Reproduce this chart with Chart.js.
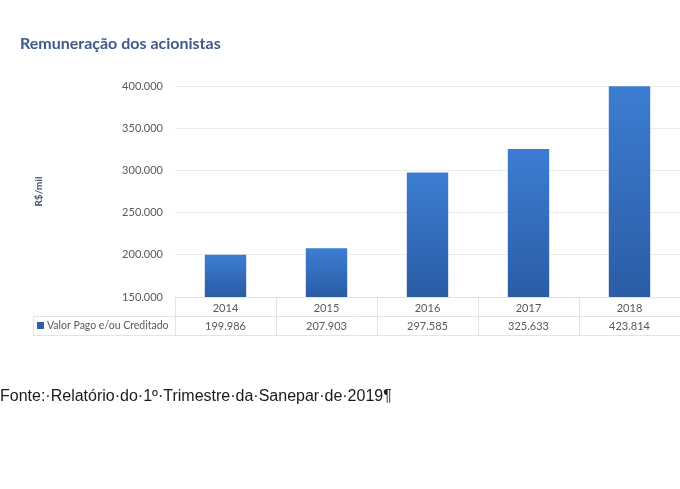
<!DOCTYPE html>
<html lang="pt">
<head>
<meta charset="UTF-8">
<title>Remuneração dos acionistas</title>
<script src="https://cdn.jsdelivr.net/npm/chart.js"></script>
<style>
  body { margin: 0; background: #fff; width: 680px; height: 489px; overflow: hidden; position: relative; }
  #wrap { position: absolute; left: 0; top: 0; width: 680px; height: 489px; }
  #fonte { position: absolute; left: 0; top: 387px; font-family: "Liberation Sans", Arial, sans-serif; font-size: 16px; color: #1a1a1a; white-space: nowrap; }
</style>
</head>
<body>
<div id="wrap"><canvas id="chart"></canvas></div>
<div id="fonte">Fonte:·Relatório·do·1º·Trimestre·da·Sanepar·de·2019¶</div>
<script>
// data
const years = ['2014', '2015', '2016', '2017', '2018'];
const valores = [199986, 207903, 297585, 325633, 423814];
const seriesName = 'Valor Pago e/ou Creditado';
const yMin = 150000;
const yMax = 400000;
const yStep = 50000;

function fmt(n) {
  return String(n).replace(/\B(?=(\d{3})+(?!\d))/g, '.');
}

const FONT = 'Lato, "Open Sans", sans-serif';

// table under the axis: grid lines + legend cell
const tablePlugin = {
  id: 'table',
  afterDraw(chart) {
    const ctx = chart.ctx;
    const x = chart.scales.x;
    const area = chart.chartArea;
    const top = area.bottom;
    const mid = top + 19;
    const bot = top + 38;
    const half = (x.getPixelForValue(1) - x.getPixelForValue(0)) / 2;
    ctx.save();
    ctx.strokeStyle = '#e4e4e4';
    ctx.lineWidth = 1;
    ctx.beginPath();
    ctx.moveTo(33, mid + 0.5); ctx.lineTo(area.right, mid + 0.5);
    ctx.moveTo(33, bot + 0.5); ctx.lineTo(area.right, bot + 0.5);
    ctx.moveTo(33.5, mid); ctx.lineTo(33.5, bot);
    years.forEach((y, i) => {
      const px = Math.round(x.getPixelForValue(i) - half) + 0.5;
      ctx.moveTo(px, top); ctx.lineTo(px, bot);
    });
    ctx.stroke();
    ctx.fillStyle = '#2e5fa8';
    ctx.fillRect(37, mid + 6, 7, 7);
    ctx.fillStyle = '#595959';
    ctx.font = '10.5px ' + FONT;
    ctx.textBaseline = 'middle';
    ctx.fillText(seriesName, 47, mid + 10);
    ctx.restore();
  }
};

new Chart(document.getElementById('chart'), {
  type: 'bar',
  data: {
    labels: years,
    datasets: [{
      label: seriesName,
      data: valores,
      barPercentage: 0.41,
      categoryPercentage: 1,
      backgroundColor(c) {
        const chart = c.chart;
        const ys = chart.scales.y;
        if (!ys || !chart.chartArea || c.raw === undefined) return '#3570c0';
        const topY = Math.max(ys.getPixelForValue(c.raw), chart.chartArea.top);
        const g = chart.ctx.createLinearGradient(0, topY, 0, chart.chartArea.bottom);
        g.addColorStop(0, '#3c7dd2');
        g.addColorStop(1, '#2b5ca5');
        return g;
      }
    }]
  },
  options: {
    responsive: true,
    maintainAspectRatio: false,
    animation: false,
    layout: { padding: { left: 20, right: 0, top: 0, bottom: 152 } },
    plugins: {
      legend: { display: false },
      tooltip: { enabled: false },
      title: {
        display: true,
        text: 'Remuneração dos acionistas',
        align: 'start',
        color: '#40598a',
        font: { family: FONT, size: 16, weight: 'bold' },
        padding: { top: 34, bottom: 33 }
      }
    },
    scales: {
      x: {
        grid: { display: false, drawTicks: false },
        border: { display: true, color: '#e2e2e2' },
        afterFit(s) { s.height = 40; },
        ticks: {
          color: '#595959',
          padding: 3,
          font: { family: FONT, size: 11, lineHeight: 1.6 },
          callback(v, i) { return [years[i], fmt(valores[i])]; }
        }
      },
      y: {
        min: yMin,
        max: yMax,
        afterFit(s) { s.width = 155; },
        grid: { color: '#ececec', drawTicks: false },
        border: { display: false },
        ticks: {
          stepSize: yStep,
          padding: 12,
          color: '#595959',
          font: { family: FONT, size: 11 },
          callback(v) { return fmt(v); }
        },
        title: {
          display: true,
          text: 'R$/mil',
          color: '#44546a',
          font: { family: FONT, size: 10, weight: 'bold' },
          padding: { top: 13, bottom: 0 }
        }
      }
    }
  },
  plugins: [tablePlugin]
});
</script>
</body>
</html>
